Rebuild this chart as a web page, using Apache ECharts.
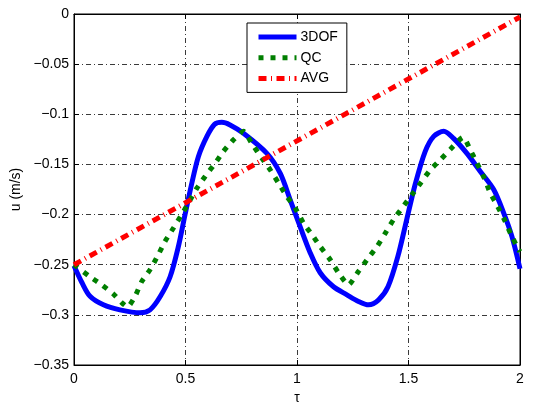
<!DOCTYPE html>
<html>
<head>
<meta charset="utf-8">
<script src="https://cdn.jsdelivr.net/npm/echarts@6/dist/echarts.min.js"></script>
<style>
  html, body { margin: 0; padding: 0; background: #fff; }
  #chart { width: 534px; height: 402px; }
</style>
</head>
<body>
<div id="chart"></div>
<script>
// Velocity u (m/s) against dimensionless time tau for three models
const seriesNames = ['3DOF', 'QC', 'AVG'];

const tau3dof = [0, 0.036, 0.072, 0.132, 0.206, 0.296, 0.341, 0.386, 0.431, 0.468, 0.498, 0.528, 0.558, 0.596, 0.630, 0.663, 0.700, 0.760, 0.865, 0.925, 0.969, 1.014, 1.059, 1.104, 1.164, 1.224, 1.276, 1.321, 1.366, 1.408, 1.452, 1.493, 1.531, 1.575, 1.613, 1.658, 1.702, 1.762, 1.822, 1.882, 1.927, 1.964, 2.0];
const u3dof = [-0.251, -0.268, -0.2815, -0.290, -0.295, -0.298, -0.295, -0.282, -0.262, -0.232, -0.200, -0.169, -0.142, -0.122, -0.110, -0.108, -0.1106, -0.119, -0.139, -0.159, -0.185, -0.212, -0.238, -0.258, -0.272, -0.280, -0.2866, -0.290, -0.285, -0.272, -0.242, -0.204, -0.169, -0.137, -0.122, -0.117, -0.124, -0.139, -0.157, -0.175, -0.1985, -0.222, -0.254];

const tauQC = [0, 0.072, 0.124, 0.176, 0.215, 0.240, 0.274, 0.304, 0.341, 0.378, 0.408, 0.446, 0.483, 0.513, 0.551, 0.588, 0.633, 0.670, 0.715, 0.760, 0.797, 0.842, 0.880, 0.917, 0.955, 0.992, 1.029, 1.067, 1.104, 1.149, 1.186, 1.231, 1.276, 1.314, 1.359, 1.396, 1.433, 1.471, 1.516, 1.553, 1.598, 1.643, 1.688, 1.745, 1.777, 1.807, 1.840, 1.867, 1.900, 1.930, 1.960, 1.990, 2.0];
const uQC = [-0.250, -0.262, -0.270, -0.279, -0.288, -0.292, -0.2815, -0.2666, -0.255, -0.240, -0.2268, -0.2134, -0.200, -0.1886, -0.1737, -0.162, -0.1488, -0.137, -0.1255, -0.117, -0.129, -0.1437, -0.1554, -0.1686, -0.182, -0.1935, -0.2085, -0.220, -0.2318, -0.245, -0.258, -0.270, -0.2566, -0.245, -0.2318, -0.2185, -0.205, -0.1935, -0.180, -0.169, -0.1554, -0.1454, -0.1348, -0.123, -0.1355, -0.1487, -0.1637, -0.1786, -0.192, -0.205, -0.220, -0.2334, -0.237];

const tauAVG = [0, 2.0];
const uAVG = [-0.250, -0.003];

const xTicks = [0, 0.5, 1, 1.5, 2];
const yTicks = [0, -0.05, -0.1, -0.15, -0.2, -0.25, -0.3, -0.35];

const pairs = (xs, ys) => xs.map((x, i) => [x, ys[i]]);
const fmt = v => {
  const r = +(+v).toFixed(2);
  return r === 0 ? '0' : String(r).replace('-', '\u2212');
};

const FONT = 'Liberation Sans, Arial, Helvetica, sans-serif';
const gridLine = { show: true, lineStyle: { color: '#3a3a3a', width: 1, type: [5, 3, 1, 3] } };

const chart = echarts.init(document.getElementById('chart'), null, { renderer: 'canvas' });

chart.setOption({
  animation: false,
  backgroundColor: '#fff',
  grid: {
    left: 74, right: 14, top: 14, bottom: 37,
    outerBoundsMode: 'none', containLabel: false,
    show: true, borderColor: '#000', borderWidth: 1, backgroundColor: 'transparent'
  },
  legend: {
    orient: 'vertical',
    left: 247, top: 23,
    data: seriesNames,
    backgroundColor: '#fff',
    borderColor: '#000', borderWidth: 1, borderRadius: 0,
    padding: [7, 9, 7, 9],
    itemWidth: 38, itemHeight: 14, itemGap: 6.7,
    itemStyle: { opacity: 0 },
    lineStyle: { width: 5, cap: 'butt' },
    textStyle: { fontFamily: FONT, fontSize: 14, color: '#000', padding: [0, 0, 0, -1] }
  },
  xAxis: [
    {
      type: 'value', min: xTicks[0], max: xTicks[xTicks.length - 1], interval: 0.5,
      name: '\u03c4', nameLocation: 'middle', nameGap: 21,
      nameTextStyle: { fontFamily: FONT, fontSize: 14, color: '#000' },
      axisLine: { show: true, onZero: false, lineStyle: { color: '#000', width: 1 } },
      axisTick: { show: true, inside: true, length: 5, lineStyle: { color: '#000' } },
      axisLabel: { fontFamily: FONT, fontSize: 14, color: '#000', margin: 7, formatter: fmt },
      splitLine: gridLine
    },
    {
      type: 'value', position: 'top', min: xTicks[0], max: xTicks[xTicks.length - 1], interval: 0.5,
      axisLine: { show: true, onZero: false, lineStyle: { color: '#000', width: 1 } },
      axisTick: { show: true, inside: true, length: 5, lineStyle: { color: '#000' } },
      axisLabel: { show: false }, splitLine: { show: false }
    }
  ],
  yAxis: [
    {
      type: 'value', min: yTicks[yTicks.length - 1], max: yTicks[0], interval: 0.05,
      name: 'u (m/s)', nameLocation: 'middle', nameGap: 50, nameRotate: 90,
      nameTextStyle: { fontFamily: FONT, fontSize: 14, color: '#000' },
      axisLine: { show: true, onZero: false, lineStyle: { color: '#000', width: 1 } },
      axisTick: { show: true, inside: true, length: 5, lineStyle: { color: '#000' } },
      axisLabel: { fontFamily: FONT, fontSize: 14, color: '#000', margin: 5, formatter: fmt },
      splitLine: gridLine
    },
    {
      type: 'value', position: 'right', min: yTicks[yTicks.length - 1], max: yTicks[0], interval: 0.05,
      axisLine: { show: true, onZero: false, lineStyle: { color: '#000', width: 1 } },
      axisTick: { show: true, inside: true, length: 5, lineStyle: { color: '#000' } },
      axisLabel: { show: false }, splitLine: { show: false }
    }
  ],
  series: [
    {
      name: '3DOF', type: 'line', data: pairs(tau3dof, u3dof), symbol: 'none', z: 3, smooth: 0.3,
      itemStyle: { color: '#0000ff' },
      lineStyle: { color: '#0000ff', width: 5, type: 'solid', join: 'round' }
    },
    {
      name: 'QC', type: 'line', data: pairs(tauQC, uQC), symbol: 'none', z: 4, smooth: 0.2,
      itemStyle: { color: '#007f00' },
      lineStyle: { color: '#007f00', width: 5, type: [5, 7], cap: 'butt' }
    },
    {
      name: 'AVG', type: 'line', data: pairs(tauAVG, uAVG), symbol: 'none', z: 5,
      itemStyle: { color: '#ff0000' },
      lineStyle: { color: '#ff0000', width: 5, type: [8, 4.5, 1, 4.5], cap: 'butt' }
    }
  ]
});
</script>
</body>
</html>
